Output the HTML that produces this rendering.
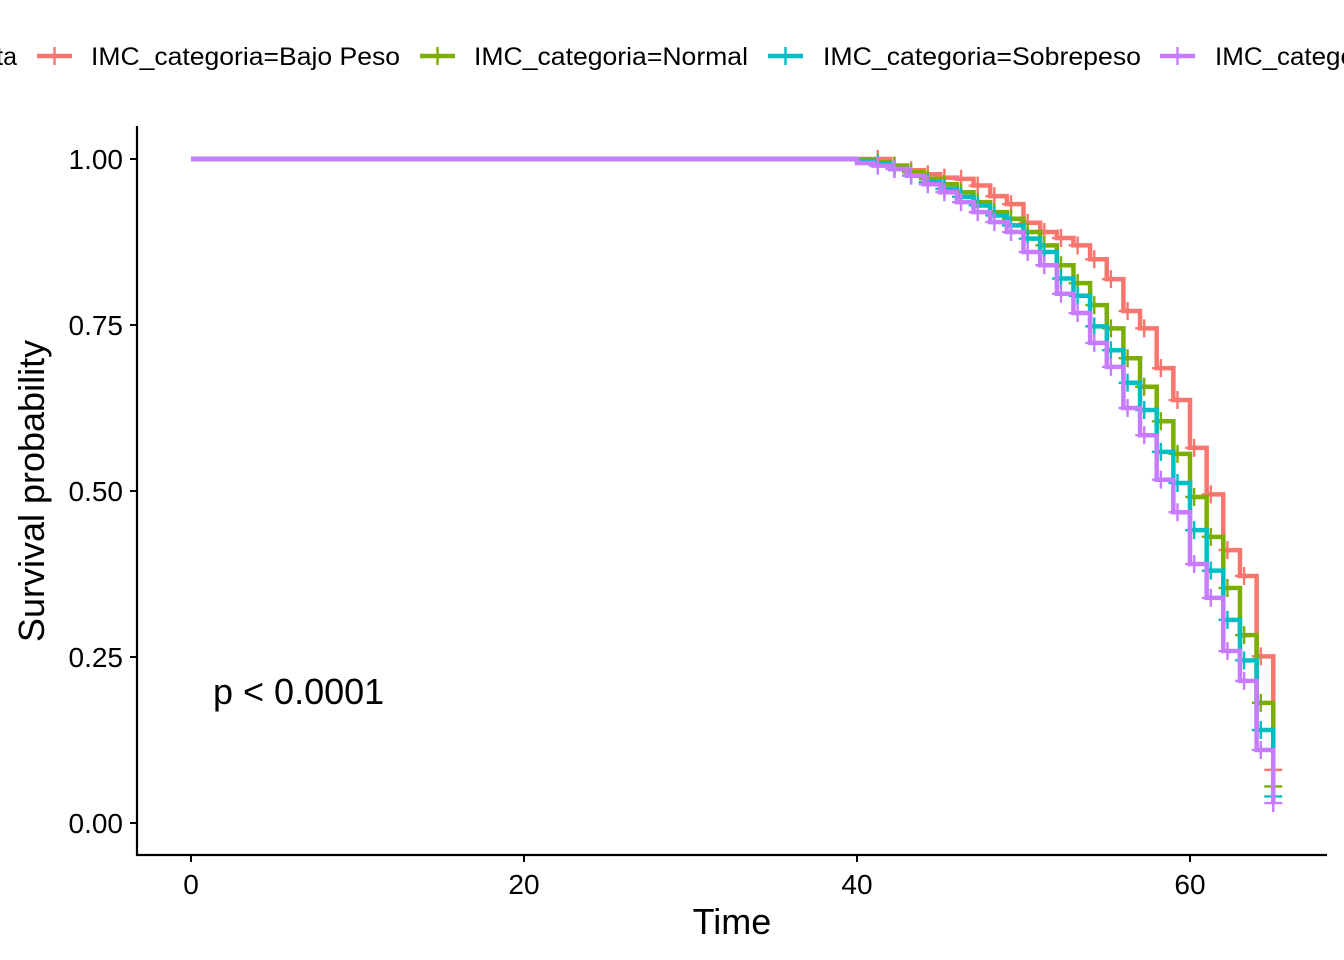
<!DOCTYPE html>
<html><head><meta charset="utf-8"><style>
html,body{margin:0;padding:0;background:#fff;}
svg{display:block;font-family:"Liberation Sans",Arial,sans-serif;}
</style></head><body>
<svg id="chart" width="1344" height="960" viewBox="0 0 1344 960">
<g id="legend"></g>
<g id="plot"></g>
<g id="axes"></g>
</svg>
<script>
const times = [41,42,43,44,45,46,47,48,49,50,51,52,53,54,55,56,57,58,59,60,61,62,63,64,65];
const seriesNames = ["Bajo Peso","Normal","Sobrepeso","Obesidad"];
const bajoPeso = [1.0,0.99,0.983,0.977,0.972,0.97,0.96,0.944,0.932,0.904,0.89,0.881,0.87,0.849,0.819,0.771,0.745,0.685,0.637,0.565,0.495,0.411,0.372,0.251,0.08];
const normal = [0.995,0.99,0.98,0.97,0.962,0.95,0.935,0.92,0.91,0.89,0.87,0.84,0.813,0.78,0.745,0.70,0.657,0.605,0.556,0.491,0.431,0.354,0.283,0.181,0.055];
const sobrepeso = [0.993,0.985,0.975,0.965,0.955,0.943,0.93,0.915,0.9,0.88,0.86,0.82,0.794,0.748,0.712,0.663,0.622,0.559,0.512,0.441,0.38,0.306,0.245,0.14,0.04];
const obesidad = [0.99,0.985,0.975,0.962,0.95,0.935,0.92,0.905,0.89,0.86,0.84,0.797,0.768,0.723,0.687,0.625,0.584,0.517,0.468,0.39,0.339,0.259,0.214,0.11,0.03];
const xTicks = [0,20,40,60];
const yTicks = [0,0.25,0.5,0.75,1.0];
const yTickLabels = ["0.00","0.25","0.50","0.75","1.00"];

const colors = ["#F8766D","#7CAE00","#00BFC4","#C77CFF"];
const allSeries = [bajoPeso, normal, sobrepeso, obesidad];
const NS = "http://www.w3.org/2000/svg";
const X = t => 191 + t*(1190-191)/60;
const Y = v => 823 - v*664;
function mk(tag, attrs, parent){const e=document.createElementNS(NS,tag);for(const k in attrs)e.setAttribute(k,attrs[k]);parent.appendChild(e);return e;}
const plot = document.getElementById('plot');
const axes = document.getElementById('axes');
const legend = document.getElementById('legend');

allSeries.forEach((vals,si)=>{
  let d = "M"+X(0)+","+Y(1)+" H"+X(times[0]-1)+" V"+Y(Math.min(1,vals[0]+0.004))+" H"+X(times[0]);
  for(let i=0;i<times.length;i++){
    d += " V"+Y(vals[i]);
    if(i<times.length-1) d += " H"+X(times[i+1]);
  }
  const p = mk('path',{d:d,fill:'none',stroke:colors[si],'stroke-width':4.5,'stroke-linejoin':'miter'},plot);
  
  
  for(let i=0;i<times.length;i++){
    const cx = i<times.length-1 ? X(times[i]+0.25) : X(times[i]);
    const cy = Y(vals[i]);
    const c = mk('path',{d:`M${cx-9},${cy}H${cx+9}M${cx},${cy-9}V${cy+9}`,stroke:colors[si],'stroke-width':2.4},plot);
    
    
  }
});

// axes
mk('line',{x1:137,y1:126,x2:137,y2:856,stroke:'#000','stroke-width':2.2},axes);
mk('line',{x1:136,y1:855,x2:1327,y2:855,stroke:'#000','stroke-width':2.2},axes);
xTicks.forEach(t=>{
  mk('line',{x1:X(t),y1:855,x2:X(t),y2:862,stroke:'#000','stroke-width':2},axes);
  const tx = mk('text',{x:X(t),y:894,'font-size':28,'text-anchor':'middle',fill:'#000'},axes);
  tx.textContent = t;
  
  
});
yTicks.forEach((v,i)=>{
  mk('line',{x1:130,y1:Y(v),x2:137,y2:Y(v),stroke:'#000','stroke-width':2},axes);
  const tx = mk('text',{x:123,y:Y(v)+10,'font-size':28,'text-anchor':'end',fill:'#000'},axes);
  tx.textContent = yTickLabels[i];
  
  
});
const xt = mk('text',{x:732,y:934,'font-size':36,'text-anchor':'middle'},axes);
xt.textContent='Time';


const yt = mk('text',{x:0,y:0,'font-size':36,'text-anchor':'middle',transform:'translate(44,491) rotate(-90)'},axes);
yt.textContent='Survival probability';


const pv = mk('text',{x:213,y:704,'font-size':36},axes);
pv.textContent='p < 0.0001';



// legend
const lt = mk('text',{x:17,y:65,'font-size':25,'text-anchor':'end'},legend);
lt.textContent='Strata';


const keyX = [37,420,768,1160];
const textX = [91,474,823,1215];
const textW = [309,274,318,295];
seriesNames.forEach((n,i)=>{
  const g = mk('g',{},legend);
  
  
  mk('line',{x1:keyX[i],y1:56,x2:keyX[i]+35,y2:56,stroke:colors[i],'stroke-width':4.5},g);
  mk('line',{x1:keyX[i]+17.5,y1:47,x2:keyX[i]+17.5,y2:65,stroke:colors[i],'stroke-width':2.4},g);
  const t = mk('text',{x:textX[i],y:65,'font-size':25},g);
  t.setAttribute('textLength',textW[i]);
  t.setAttribute('lengthAdjust','spacingAndGlyphs');
  t.textContent='IMC_categoria='+n;
});
</script>
</body></html>
